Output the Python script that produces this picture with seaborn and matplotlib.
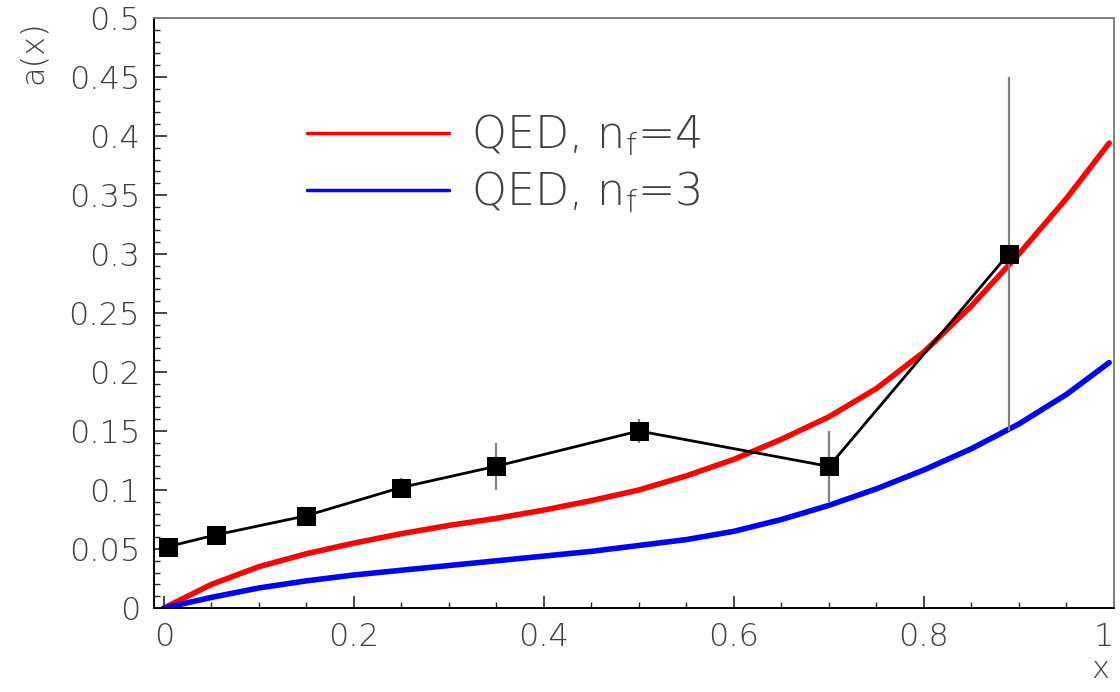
import matplotlib
matplotlib.use("Agg")
import matplotlib.pyplot as plt
import seaborn as sns
import pandas as pd
from matplotlib.lines import Line2D
from matplotlib.ticker import MultipleLocator

# curves (theory)
x_curve = [0.0, 0.05, 0.1, 0.15, 0.2, 0.25, 0.3, 0.35, 0.4, 0.45, 0.5,
           0.55, 0.6, 0.65, 0.7, 0.75, 0.8, 0.85, 0.9, 0.95, 0.995]
qed_nf4 = [0.0, 0.020, 0.035, 0.046, 0.055, 0.063, 0.070, 0.076, 0.083, 0.091, 0.100,
           0.112, 0.126, 0.143, 0.162, 0.186, 0.217, 0.256, 0.300, 0.347, 0.394]
qed_nf3 = [0.0, 0.009, 0.017, 0.023, 0.028, 0.032, 0.036, 0.040, 0.044, 0.048, 0.053,
           0.058, 0.065, 0.075, 0.087, 0.101, 0.117, 0.135, 0.156, 0.181, 0.208]

# data points
x_data = [0.004, 0.055, 0.149, 0.249, 0.349, 0.5, 0.7, 0.889]
a_data = [0.052, 0.062, 0.078, 0.102, 0.12, 0.15, 0.12, 0.30]
a_err = [0.003, 0.003, 0.004, 0.008, 0.02, 0.01, 0.03, 0.15]

sns.set_style("ticks")
plt.rcParams["font.family"] = ["DejaVu Sans"]
plt.rcParams["mathtext.fontset"] = "dejavusans"

txt_col = "#404040"

fig = plt.figure(figsize=(11.2, 6.92), dpi=100)
ax = fig.add_axes([0.1375, 0.1214, 0.8571, 0.8526])

df_c = pd.DataFrame({"x": x_curve, "nf4": qed_nf4, "nf3": qed_nf3})
sns.lineplot(data=df_c, x="x", y="nf4", color="#ff0000", lw=4, ax=ax)
sns.lineplot(data=df_c, x="x", y="nf3", color="#0000ff", lw=4, ax=ax)

ax.errorbar(x_data, a_data, yerr=a_err, fmt="none", ecolor="#808080", elinewidth=1.6, zorder=3)
df_d = pd.DataFrame({"x": x_data, "a": a_data})
sns.lineplot(data=df_d, x="x", y="a", color="black", lw=2, marker="s", markersize=13,
             markeredgecolor="black", ax=ax, zorder=4)

ax.set_xlim(-0.0105, 1.0)
ax.set_ylim(0, 0.5)
ax.xaxis.set_minor_locator(MultipleLocator(0.05))
ax.yaxis.set_minor_locator(MultipleLocator(0.01))
ax.set_xticks([0, 0.2, 0.4, 0.6, 0.8, 1.0])
ax.set_xticklabels(["0", "0.2", "0.4", "0.6", "0.8", "1"])
ax.set_yticks([0, 0.05, 0.1, 0.15, 0.2, 0.25, 0.3, 0.35, 0.4, 0.45, 0.5])
ax.set_yticklabels(["0", "0.05", "0.1", "0.15", "0.2", "0.25", "0.3", "0.35", "0.4", "0.45", "0.5"])
ax.tick_params(which="major", direction="in", length=9, width=1.2, labelsize=23,
               labelcolor=txt_col, pad=10)
ax.tick_params(which="minor", direction="in", length=4.5, width=1.0)
for lab in ax.get_xticklabels() + ax.get_yticklabels():
    lab.set_fontweight(200)
ax.get_xticklabels()[-1].set_horizontalalignment("right")

for side in ["left", "bottom"]:
    ax.spines[side].set_color("black")
    ax.spines[side].set_linewidth(1.4)
for side in ["top", "right"]:
    ax.spines[side].set_visible(True)
    ax.spines[side].set_color("#808080")
    ax.spines[side].set_linewidth(1.4)

ax.set_xlabel("")
ax.set_ylabel("")
fig.text(0.982, 0.033, "x", fontsize=22, color=txt_col, fontweight=200, ha="center", va="center")
fig.text(0.029, 0.925, "a(x)", fontsize=23, color=txt_col, fontweight=200,
         rotation=90, ha="center", va="center")

handles = [Line2D([], [], color="#ff0000", lw=2.5), Line2D([], [], color="#0000ff", lw=2.5)]
labels = [r"QED, n$_\mathregular{f}$=4", r"QED, n$_\mathregular{f}$=3"]
leg = ax.legend(handles, labels, loc="upper left", bbox_to_anchor=(0.159, 0.84), frameon=False,
                fontsize=32, handlelength=3.2, handletextpad=0.5, labelspacing=0.28,
                borderpad=0, borderaxespad=0)
for t in leg.get_texts():
    t.set_color(txt_col)
    t.set_fontweight(200)

fig.savefig("out.png", dpi=100)
